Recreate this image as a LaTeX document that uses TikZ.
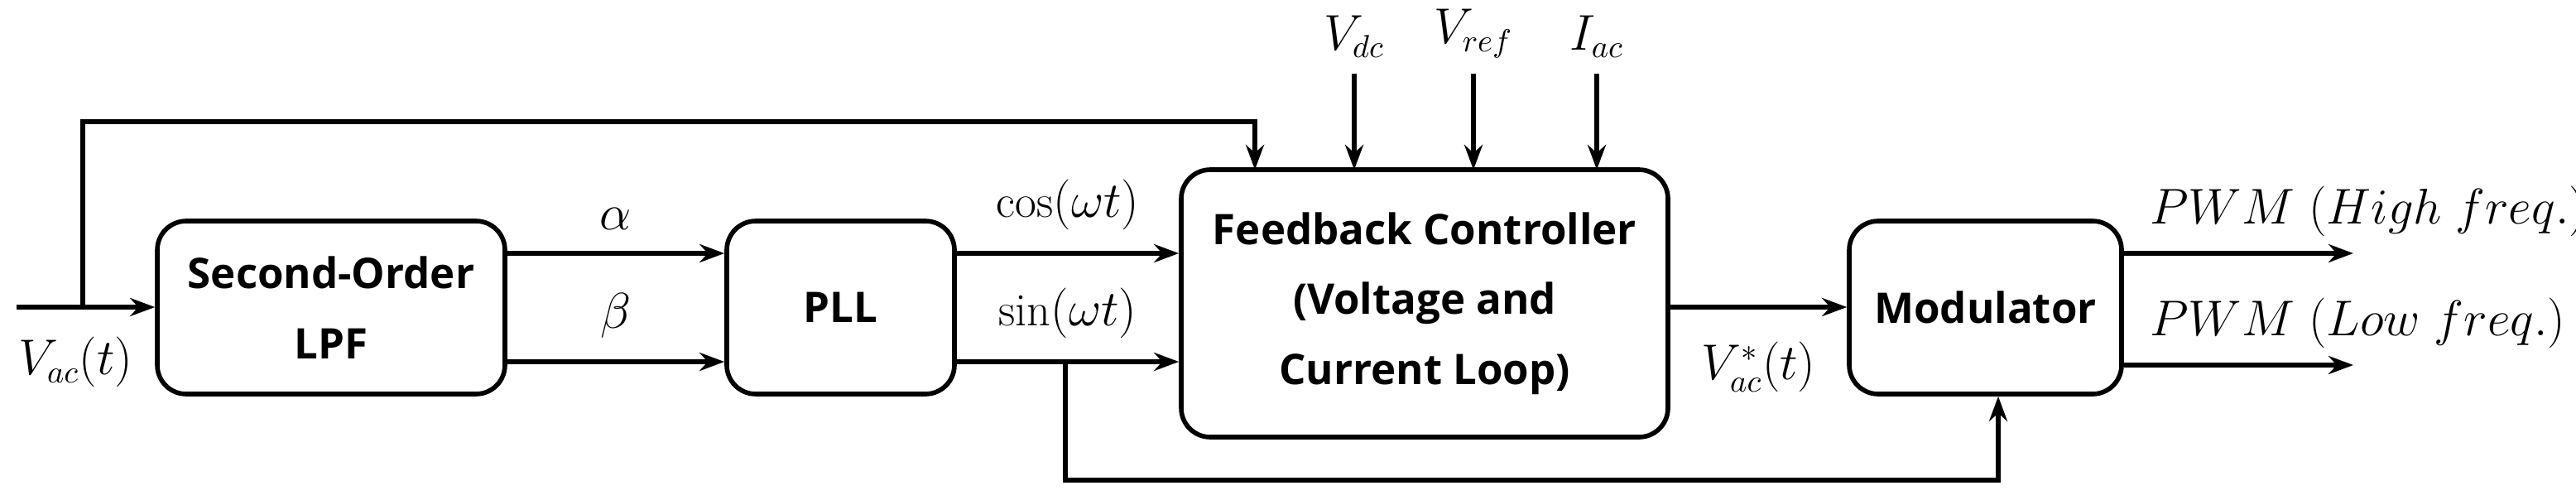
\documentclass[tikz,border=0pt]{standalone}
\usepackage{amsmath}
\usepackage{fontspec}
\newfontfamily\boxfont{Open Sans}
\usetikzlibrary{arrows.meta,positioning}
\tikzset{
  blk/.style={draw,line width=1.6pt,rounded corners=0.35cm,align=center,
    font=\boxfont\fontsize{14.5}{24}\selectfont\bfseries,inner sep=0pt},
  sig/.style={line width=1.5pt,-{Stealth[length=0.3cm,width=0.22cm]}},
  lbl/.style={font=\fontsize{16}{18}\selectfont}
}
\begin{document}
\begin{tikzpicture}
\useasboundingbox (0,0) rectangle (31.12,-6.03);

% blocks
\node[blk,minimum width=4.2cm,minimum height=2.09cm] (lpf) at (4.0,-3.715) {Second-Order\\LPF};
\node[blk,minimum width=2.75cm,minimum height=2.09cm] (pll) at (10.155,-3.715) {PLL};
\node[blk,minimum width=5.88cm,minimum height=3.23cm] (fbc) at (17.21,-3.665) {Feedback Controller\\(Voltage and\\Current Loop)};
\node[blk,minimum width=3.29cm,minimum height=2.09cm] (mod) at (23.985,-3.715) {Modulator};

% input and feed-forward
\coordinate (vin) at (0.2,-3.71);
\coordinate (br) at (1.0,-3.71);
\draw[sig] (vin) -- (vin -| lpf.west);
\node[lbl,anchor=north west] (vacl) at (0.1,-3.95) {$V_{ac}(t)$};
\draw[sig] (br) |- (15.16,-1.47) -- (15.16,-2.05);

% alpha / beta
\draw[sig] (lpf.east |- 0,-3.06) -- (pll.west |- 0,-3.06) node[lbl,midway,above=4pt] {$\alpha$};
\draw[sig] (lpf.east |- 0,-4.37) -- (pll.west |- 0,-4.37) node[lbl,midway,above=4pt] {$\beta$};

% cos / sin
\draw[sig] (pll.east |- 0,-3.06) -- (fbc.west |- 0,-3.06) node[lbl,midway,above=4pt] {$\cos(\omega t)$};
\draw[sig] (pll.east |- 0,-4.37) -- (fbc.west |- 0,-4.37) node[lbl,midway,above=4pt] {$\sin(\omega t)$};
\coordinate (sb) at (12.87,-4.37);
\draw[sig] (sb) |- (24.14,-5.80) -- (mod.south -| 24.14,0);

% references
\foreach \x/\t [count=\i] in {16.36/V_{dc},17.80/V_{ref},19.29/I_{ac}}{
  \coordinate (ref\i) at (\x,-0.89);
  \draw[sig] (ref\i) -- (\x,-2.05);
  \node[lbl,above=2pt] at (ref\i) {$\t$};
}

% controller output
\draw[sig] (fbc.east |- 0,-3.71) -- (mod.west |- 0,-3.71) node[lbl,midway,below=8pt] {$V^*_{ac}(t)$};

% PWM outputs
\coordinate (ph) at (28.43,-3.06);
\coordinate (pl) at (28.43,-4.41);
\draw[sig] (mod.east |- ph) -- (ph);
\draw[sig] (mod.east |- pl) -- (pl);
\node[lbl,anchor=south west] at (25.85,-2.98) {$PWM\ (High\ freq.)$};
\node[lbl,anchor=south west] at (25.85,-4.33) {$PWM\ (Low\ freq.)$};
\end{tikzpicture}
\end{document}
